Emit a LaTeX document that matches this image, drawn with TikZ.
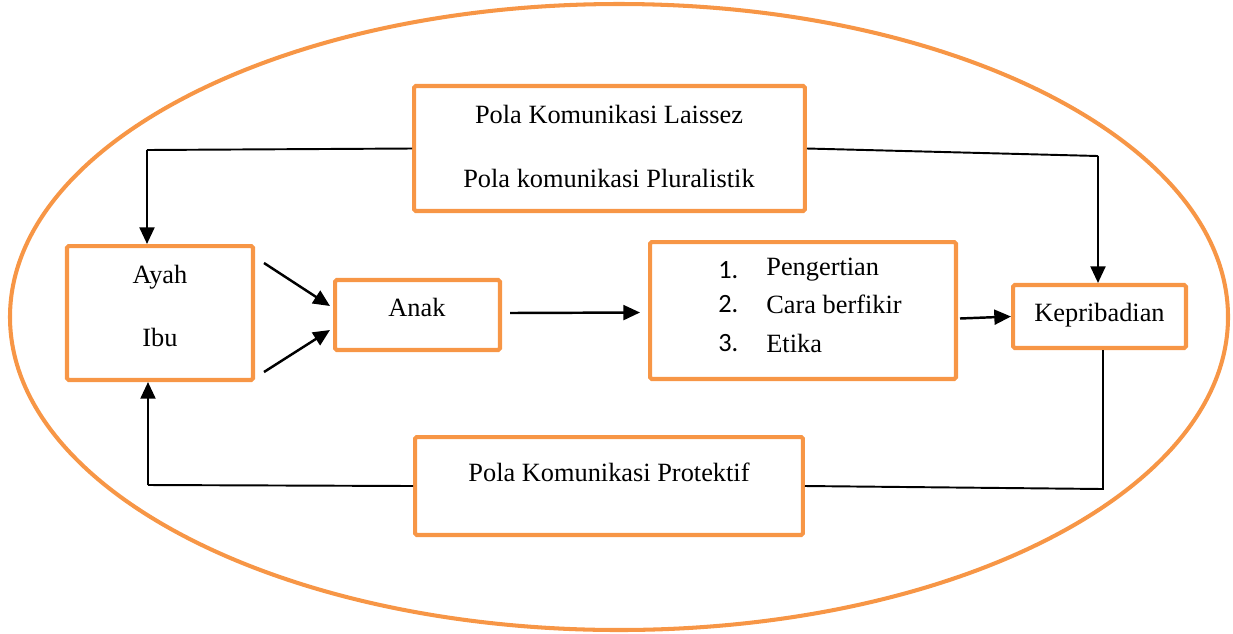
\documentclass[tikz,border=0pt]{standalone}
\usepackage{fontspec}
\setmainfont{Liberation Serif}
\newfontfamily\numfont{Carlito}
\usetikzlibrary{arrows.meta}
\definecolor{oranye}{HTML}{F79646}

\begin{document}
\begin{tikzpicture}[x=0.02cm,y=-0.02cm,inner sep=0pt,
  font=\fontsize{15}{18}\selectfont,
  kotak/.style={draw=oranye,line width=2.3pt,rounded corners=1pt},
  garis/.style={line width=1.1pt},
  panah/.style={line width=1.4pt,-{Triangle[length=9.5pt,width=8.5pt]}}]
\useasboundingbox (0,0) rectangle (1233,633);

\draw[draw=oranye,line width=2.3pt] (619,317) ellipse [x radius=609,y radius=313];

\node[kotak,minimum width=7.82cm,minimum height=2.5cm] (pola1) at (609.5,148.5) {};
\node[kotak,minimum width=3.72cm,minimum height=2.68cm] (ortu) at (160,313) {};
\node[kotak,minimum width=3.3cm,minimum height=1.4cm] (anak) at (417.5,315) {};
\node[kotak,minimum width=6.12cm,minimum height=2.74cm] (aspek) at (803,310.5) {};
\node[kotak,minimum width=3.46cm,minimum height=1.26cm] (kepri) at (1099.5,316.5) {};
\node[kotak,minimum width=7.76cm,minimum height=1.96cm] (pola2) at (609,486) {};

\node (laissez) at (609,114) {Pola Komunikasi Laissez};
\node (plural) at (609,178) {Pola komunikasi Pluralistik};
\node (ayah) at (160,277) {Ayah};
\node (ibu) at (160,337) {Ibu};
\node (anaktxt) at (417,307) {Anak};
\node (kepritxt) at (1099.5,315) {Kepribadian};
\node (protektif) at (609,472) {Pola Komunikasi Protektif};

\node[anchor=west] (n1) at (718,270) {\numfont 1.};
\node[anchor=west] (n2) at (718,304) {\numfont 2.};
\node[anchor=west] (n3) at (718,343) {\numfont 3.};
\node[anchor=west] (a1) at (766,270) {Pengertian};
\node[anchor=west] (a2) at (766,304) {Cara berfikir};
\node[anchor=west] (a3) at (766,343) {Etika};

\coordinate (kiriatas) at (147,150);
\coordinate (kananatas) at (1098,156);
\coordinate (kananbawah) at (1103,489);
\coordinate (kiribawah) at (148,485);

\draw[garis] (pola1.west) -- (kiriatas);
\draw[panah] (kiriatas) -- (kiriatas |- ortu.north);
\draw[garis] (pola1.east) -- (kananatas);
\draw[panah] (kananatas) -- (kananatas |- kepri.north);
\draw[garis] (kananbawah |- kepri.south) -- (kananbawah) -- (pola2.east);
\draw[garis] (pola2.west) -- (kiribawah);
\draw[panah] (kiribawah) -- (kiribawah |- ortu.south);

\draw[panah] ([shift={(9,19)}]ortu.north east) -- ([shift={(-3,-9)}]anak.west);
\draw[panah] ([shift={(9,-10)}]ortu.south east) -- ([shift={(-3,15)}]anak.west);
\draw[panah] ([shift={(8,-2)}]anak.east) -- ([shift={(-8,2)}]aspek.west);
\draw[panah] ([shift={(2,8)}]aspek.east) -- (kepri.west);
\end{tikzpicture}
\end{document}
